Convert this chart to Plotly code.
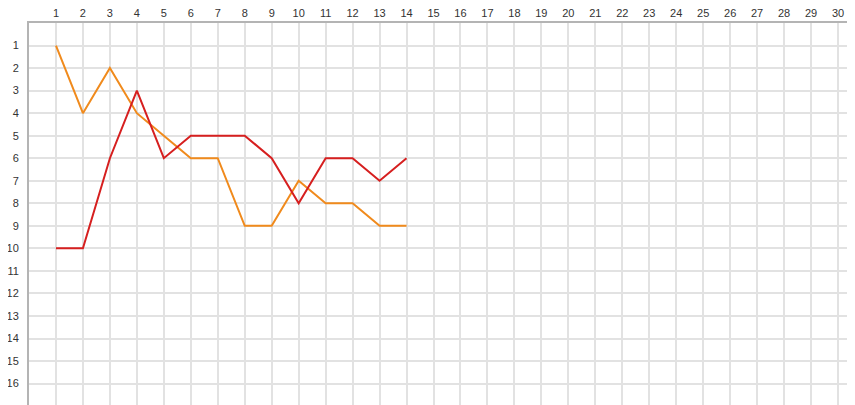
import plotly.graph_objects as go

rounds = list(range(1, 15))
orange_pos = [1, 4, 2, 4, 5, 6, 6, 9, 9, 7, 8, 8, 9, 9]
red_pos = [10, 10, 6, 3, 6, 5, 5, 5, 6, 8, 6, 6, 7, 6]
x_ticks = list(range(1, 31))
y_ticks = list(range(1, 17))

fig = go.Figure()
fig.add_trace(go.Scatter(x=rounds, y=orange_pos, mode="lines",
                         line=dict(color="#f08a1c", width=2), showlegend=False))
fig.add_trace(go.Scatter(x=rounds, y=red_pos, mode="lines",
                         line=dict(color="#d61f1f", width=2), showlegend=False))

# page body has an 8px default margin; compensate in the figure size/margins
fig.update_layout(
    width=847, height=397,
    margin=dict(l=21, r=0, t=15, b=0),
    paper_bgcolor="white", plot_bgcolor="white",
    font=dict(family="Liberation Sans, Arial, sans-serif", size=11, color="#333333"),
)
fig.update_xaxes(
    side="top", range=[0, 30.63], tickvals=x_ticks, ticktext=[str(v) for v in x_ticks],
    showgrid=True, gridcolor="#e2e2e2", gridwidth=2,
    showline=True, linecolor="#b4b4b4", linewidth=2,
    zeroline=False, ticks="", fixedrange=True, automargin=False,
)
fig.update_yaxes(
    range=[16.95, 0], tickvals=y_ticks, ticktext=[str(v) for v in y_ticks],
    showgrid=True, gridcolor="#e2e2e2", gridwidth=2,
    showline=True, linecolor="#b4b4b4", linewidth=2,
    zeroline=False, ticks="", fixedrange=True, automargin=False,
    ticklabelstandoff=6,
)

fig.write_html("out.html")
